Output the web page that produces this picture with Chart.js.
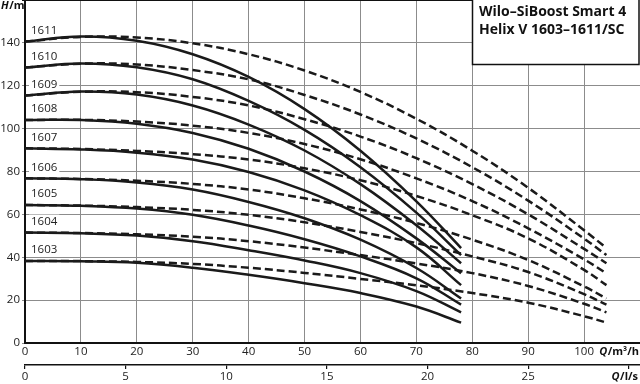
<!DOCTYPE html>
<html>
<head>
<meta charset="utf-8">
<script src="https://cdn.jsdelivr.net/npm/chart.js@4.4.1/dist/chart.umd.min.js"></script>
<style>
body{margin:0;background:#fff}
#wrap{width:640px;height:384px;position:relative}
</style>
</head>
<body>
<div id="wrap"><canvas id="pumpChart"></canvas></div>
<script>
// pump types, bottom to top
var pumpNames = ['1603','1604','1605','1606','1607','1608','1609','1610','1611'];

// flow points (m3/h) for the solid (3 pumps) and dashed (4 pumps) curves
var qSolid  = [0,10,20,30,40,50,60,70,78];
var qDashed = [0,10,20,30,40,50,60,70,80,90,100,104];

// head H/m
var hSolid1603 = [38.3,38.1,37.4,35.1,31.8,27.9,23.3,17.0,9.5];
var hSolid1604 = [51.5,51.2,50.1,47.5,43.3,38.5,32.6,24.2,14.3];
var hSolid1605 = [64.4,64.0,62.7,59.8,54.8,48.4,40.4,30.2,17.9];
var hSolid1606 = [76.8,76.4,74.9,71.6,65.8,58.2,48.2,35.0,20.8];
var hSolid1607 = [90.8,90.3,88.8,85.6,79.8,71.2,59.6,44.6,27.0];
var hSolid1608 = [104,104,102.3,98.0,90.6,80.0,66.2,48.8,32.5];
var hSolid1609 = [115.4,117.3,115.9,110.8,101.9,89.8,74.1,54.9,37.2];
var hSolid1610 = [128.5,130.4,128.6,123.0,112.9,99.4,82.0,60.8,41.0];
var hSolid1611 = [140.6,143.0,141.0,134.7,124.1,109.1,89.7,66.1,44.3];

var hDashed1603 = [38.3,38.2,37.8,36.9,35.1,32.7,29.9,26.9,23.3,18.8,12.5,9.5];
var hDashed1604 = [51.5,51.3,50.7,49.6,47.5,44.5,41.0,37.1,32.6,26.6,18.3,14.3];
var hDashed1605 = [64.4,64.1,63.4,62.1,59.8,56.3,51.8,46.6,40.4,33.1,22.8,17.9];
var hDashed1606 = [76.8,76.5,75.7,74.2,71.6,67.5,62.3,56.0,48.2,38.7,26.4,20.8];
var hDashed1607 = [90.8,90.5,89.6,88.1,85.6,81.5,75.9,68.6,59.6,48.8,34.1,27.0];
var hDashed1608 = [104,104.1,103.3,101.4,98.0,92.8,85.7,76.8,66.2,53.5,39.0,32.5];
var hDashed1609 = [115.4,117.2,117.0,114.8,110.8,104.4,96.3,86.2,74.1,60.0,43.9,37.2];
var hDashed1610 = [128.5,130.3,129.9,127.3,123.0,115.7,106.6,95.4,82.0,66.4,48.7,41.0];
var hDashed1611 = [140.6,142.8,142.5,139.8,134.7,127.1,117.1,104.6,89.7,72.4,52.6,44.3];

var solidSets  = [hSolid1603,hSolid1604,hSolid1605,hSolid1606,hSolid1607,hSolid1608,hSolid1609,hSolid1610,hSolid1611];
var dashedSets = [hDashed1603,hDashed1604,hDashed1605,hDashed1606,hDashed1607,hDashed1608,hDashed1609,hDashed1610,hDashed1611];

var titleLines = ['Wilo\u2013SiBoost Smart 4', 'Helix V 1603\u20131611/SC'];

var lineColor = '#1a1a1a';
var gridColor = '#8c8c8c';
var fontName = "'Open Sans', sans-serif";

function toPoints(qs, hs) {
	var pts = [];
	for (var i = 0; i < qs.length; i++) {
		pts.push({x: qs[i], y: hs[i]});
	}
	return pts;
}

var datasets = [];
for (var i = 0; i < pumpNames.length; i++) {
	datasets.push({
		label: pumpNames[i] + ' (4)',
		data: toPoints(qDashed, dashedSets[i]),
		borderColor: lineColor,
		borderWidth: 2.5,
		borderDash: [8, 4],
		pointRadius: 0,
		tension: 0.4,
		xAxisID: 'x'
	});
	datasets.push({
		label: pumpNames[i],
		data: toPoints(qSolid, solidSets[i]),
		borderColor: lineColor,
		borderWidth: 2.5,
		pointRadius: 0,
		tension: 0.4,
		xAxisID: 'x'
	});
}

// draws "Q/m³/h" style labels with an italic symbol
function axisName(ctx, sym, rest, x, y, alignRight) {
	ctx.font = "italic bold 11px " + fontName;
	var w1 = ctx.measureText(sym).width;
	ctx.font = "bold 11px " + fontName;
	var w2 = ctx.measureText(rest).width;
	var x0 = alignRight ? x - w1 - w2 - 0.5 : x;
	ctx.font = "italic bold 11px " + fontName;
	ctx.fillText(sym, x0, y);
	ctx.font = "bold 11px " + fontName;
	ctx.fillText(rest, x0 + w1 + 0.5, y);
}

var overlay = {
	id: 'overlay',
	beforeDatasetsDraw: function(chart) {
		var ctx = chart.ctx;
		var ys = chart.scales.y;
		ctx.save();
		ctx.font = "11.5px " + fontName;
		ctx.textBaseline = 'middle';
		for (var i = 0; i < pumpNames.length; i++) {
			var py = ys.getPixelForValue(solidSets[i][0]) - 11;
			var w = ctx.measureText(pumpNames[i]).width;
			ctx.fillStyle = '#fff';
			ctx.fillRect(29, py - 7, w + 4, 14);
			ctx.fillStyle = '#222';
			ctx.fillText(pumpNames[i], 31, py);
		}
		ctx.restore();
	},
	afterDraw: function(chart) {
		var ctx = chart.ctx;
		ctx.save();
		// title box
		ctx.fillStyle = '#fff';
		ctx.fillRect(472, 0, 168, 65);
		ctx.strokeStyle = '#111';
		ctx.lineWidth = 1.5;
		ctx.strokeRect(472.5, -1, 166.5, 65.5);
		ctx.fillStyle = '#111';
		ctx.font = "bold 14px " + fontName;
		ctx.textBaseline = 'middle';
		ctx.fillText(titleLines[0], 479, 12);
		ctx.fillText(titleLines[1], 479, 30);
		// axis names
		ctx.fillStyle = '#111';
		axisName(ctx, 'H', '/m', 1, 6, false);
		axisName(ctx, 'Q', '/m\u00b3/h', 639, 352, true);
		axisName(ctx, 'Q', '/l/s', 638, 377, true);
		ctx.restore();
	}
};

var ctx1 = document.getElementById('pumpChart').getContext('2d');
Chart.defaults.font.family = fontName;
Chart.defaults.font.size = 11.5;
Chart.defaults.color = '#222';

window.pumpChart = new Chart(ctx1, {
	type: 'line',
	data: {datasets: datasets},
	options: {
		responsive: true,
		maintainAspectRatio: false,
		animation: false,
		layout: {padding: {left: 0, right: 0, top: 0, bottom: 0}},
		plugins: {
			legend: {display: false},
			tooltip: {enabled: false}
		},
		scales: {
			x: {
				type: 'linear',
				position: 'bottom',
				weight: 0,
				min: 0,
				max: 110,
				ticks: {
					stepSize: 10,
					padding: 2,
					maxRotation: 0,
					callback: function(v) { return v > 100 ? '' : v; }
				},
				grid: {
					drawTicks: false,
					color: function(c) { return c.tick && c.tick.value > 100 ? 'rgba(0,0,0,0)' : gridColor; },
					lineWidth: 1
				},
				border: {color: '#111', width: 2},
				afterFit: function(s) { s.height = 22; s.paddingLeft = 0; s.paddingRight = 0; }
			},
			x2: {
				type: 'linear',
				position: 'bottom',
				weight: 1,
				min: 0,
				max: 110 / 3.6,
				ticks: {
					stepSize: 5,
					includeBounds: false,
					padding: 1,
					maxRotation: 0,
					callback: function(v) { return v >= 30 ? '' : v; }
				},
				grid: {
					drawOnChartArea: false,
					drawTicks: true,
					tickLength: 4,
					color: '#111',
					lineWidth: 1.2
				},
				border: {color: '#111', width: 1.5},
				afterFit: function(s) { s.height = 19; s.paddingLeft = 0; s.paddingRight = 0; }
			},
			y: {
				type: 'linear',
				min: 0,
				max: 160,
				ticks: {
					stepSize: 20,
					padding: 2,
					callback: function(v) { return v >= 160 ? '' : v; }
				},
				grid: {
					drawTicks: true,
					tickLength: 3,
					color: function(c) { return c.tick && c.tick.value >= 160 ? '#111' : gridColor; },
					lineWidth: function(c) { return c.tick && c.tick.value >= 160 ? 2 : 1; }
				},
				border: {color: '#111', width: 2},
				afterFit: function(s) { s.width = 25; s.paddingTop = 0; s.paddingBottom = 0; }
			}
		}
	},
	plugins: [overlay]
});
</script>
</body>
</html>
